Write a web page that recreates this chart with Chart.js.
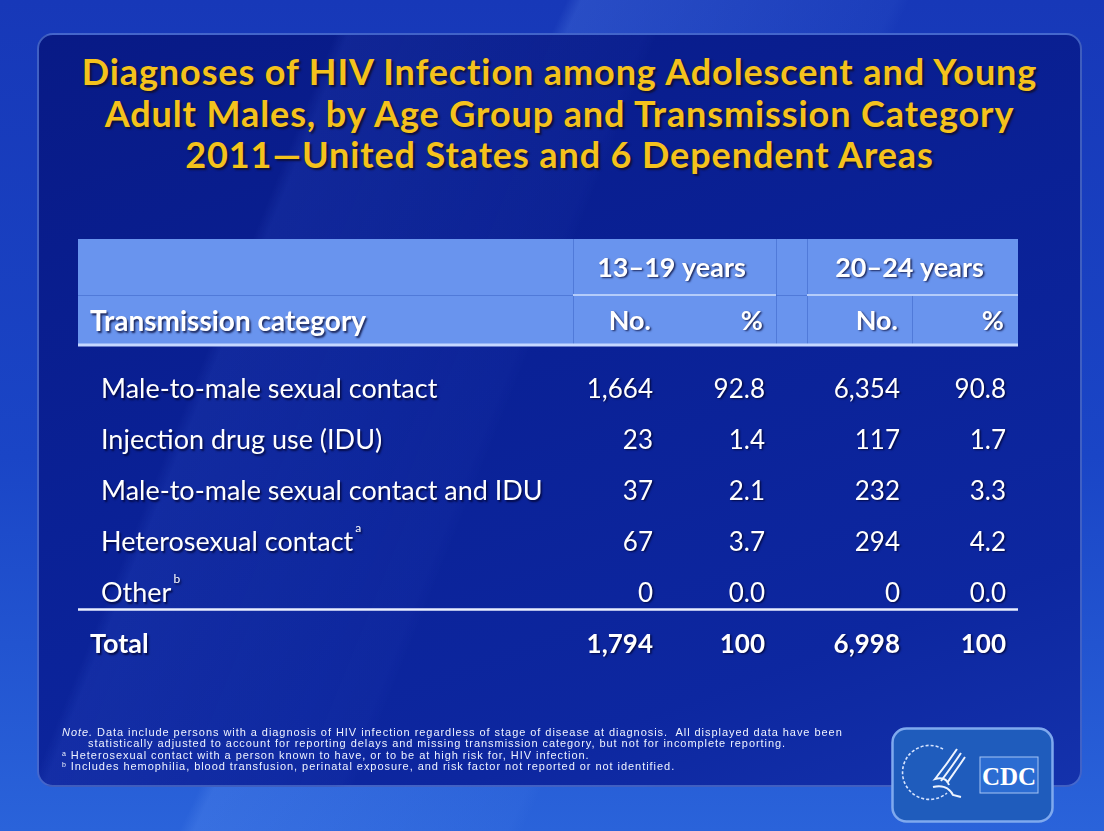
<!DOCTYPE html>
<html>
<head>
<meta charset="utf-8">
<script src="https://cdn.jsdelivr.net/npm/chart.js@4.4.0/dist/chart.umd.min.js"></script>
<style>
  html, body { margin: 0; padding: 0; }
  body {
    width: 1104px; height: 831px; overflow: hidden; position: relative;
    background:
      linear-gradient(115deg, rgba(255,255,255,0) 0%, rgba(255,255,255,0) 38%, rgba(120,170,255,.18) 39%, rgba(120,170,255,.05) 60%, rgba(255,255,255,0) 61%),
      linear-gradient(180deg, #1738b8 0%, #1a45c6 55%, #2a63da 100%);
  }
  #panel {
    position: absolute; left: 37px; top: 33px; width: 1041px; height: 750px;
    border-radius: 16px; border: 2px solid rgba(110,150,235,.55);
    background:
      linear-gradient(112deg, rgba(255,255,255,0) 0%, rgba(255,255,255,0) 22%, rgba(90,130,255,.10) 23%, rgba(90,130,255,.03) 45%, rgba(255,255,255,0) 46%),
      linear-gradient(160deg, #081a86 0%, #0a2196 45%, #0d27a0 80%, #1432ac 100%);
  }
  #title {
    position: absolute; left: 37px; width: 1045px; top: 51px;
    text-align: center; font: bold 36px Lato, sans-serif; line-height: 41.5px;
    letter-spacing: 0.9px;
    color: #f4c21c; text-shadow: 2px 2px 2px #10103a;
  }
  #chart { position: absolute; left: 0; top: 0; }
  #notes {
    position: absolute; left: 62px; top: 727px; width: 840px;
    font: 11px "Liberation Sans", Arial, sans-serif;
    color: #eef2ff; white-space: nowrap; letter-spacing: 0.95px;
  }
  #notes div { height: 11.3px; line-height: 11.3px; }
  #notes .ind { padding-left: 26px; }
  #notes sup { font-size: 7px; vertical-align: baseline; position: relative; top: -3px; }
  #logo { position: absolute; left: 891px; top: 727px; }
</style>
</head>
<body>
<div id="panel"></div>
<div id="title">Diagnoses of HIV Infection among Adolescent and Young<br>Adult Males, by Age Group and Transmission Category<br>2011—United States and 6 Dependent Areas</div>
<canvas id="chart" width="1104" height="831"></canvas>
<div id="notes">
  <div><i>Note.</i> Data include persons with a diagnosis of HIV infection regardless of stage of disease at diagnosis.&nbsp; All displayed data have been</div>
  <div class="ind">statistically adjusted to account for reporting delays and missing transmission category, but not for incomplete reporting.</div>
  <div><sup>a</sup> Heterosexual contact with a person known to have, or to be at high risk for, HIV infection.</div>
  <div><sup>b</sup> Includes hemophilia, blood transfusion, perinatal exposure, and risk factor not reported or not identified.</div>
</div>
<svg id="logo" width="164" height="97" viewBox="0 0 164 97">
  <rect x="1.5" y="1.5" width="160" height="93" rx="14" fill="#1f5cbc" stroke="#7fa9ee" stroke-width="2.5"/>
  <path d="M 52 22 A 27 27 0 1 0 56 66" fill="none" stroke="#d6e4ff" stroke-width="1.6" stroke-dasharray="3 2"/>
  <path d="M 66 22 C 58 34 52 42 44 52 C 52 50 56 52 58 58 M 70 26 C 62 38 56 46 50 54 M 74 30 C 66 42 60 50 56 56 M 42 60 C 50 58 58 60 62 68 L 70 70" fill="none" stroke="#eef4ff" stroke-width="2"/>
  <rect x="89" y="30" width="58" height="36" fill="#2b6cd2" stroke="#a6c4f4" stroke-width="1"/>
  <text x="118" y="58" text-anchor="middle" font-family="Liberation Serif, serif" font-weight="bold" font-size="25" fill="#ffffff">CDC</text>
</svg>
<script>
const rowLabels = ['Male-to-male sexual contact', 'Injection drug use (IDU)', 'Male-to-male sexual contact and IDU', 'Heterosexual contact', 'Other', 'Total'];
const rowNotes = ['', '', '', 'a', 'b', ''];
const ageGroups = ['13–19 years', '20–24 years'];
const colHeads = ['No.', '%', 'No.', '%'];
const no1319 = [1664, 23, 37, 67, 0, 1794];
const pct1319 = [92.8, 1.4, 2.1, 3.7, 0.0, 100];
const no2024 = [6354, 117, 232, 294, 0, 6998];
const pct2024 = [90.8, 1.7, 3.3, 4.2, 0.0, 100];

// layout, in table units (0 = left edge of table)
const colRight = [575, 687, 822, 928];
const groupEdges = [[495, 698], [729, 940]];
const columns = [no1319, pct1319, no2024, pct2024];
const isPct = [false, true, false, true];

function fmt(v, pct) {
  if (pct) return v === 100 ? '100' : v.toFixed(1);
  return v.toLocaleString('en-US');
}

const fontFam = 'Lato, "Open Sans", sans-serif';

function shadowOn(ctx) {
  ctx.shadowColor = 'rgba(0,0,40,0.75)';
  ctx.shadowOffsetX = 1.5;
  ctx.shadowOffsetY = 1.5;
  ctx.shadowBlur = 2;
}
function shadowOff(ctx) {
  ctx.shadowColor = 'transparent';
  ctx.shadowOffsetX = 0; ctx.shadowOffsetY = 0; ctx.shadowBlur = 0;
}

const tablePlugin = {
  id: 'tablePlugin',
  beforeDatasetsDraw(chart) {
    const ctx = chart.ctx;
    const x = chart.scales.x, y = chart.scales.y;
    const L = x.getPixelForValue(0), R = x.getPixelForValue(940);
    const hTop = chart.chartArea.top - 125, hMid = chart.chartArea.top - 69, hBot = chart.chartArea.top - 20;
    ctx.save();
    // header band
    ctx.fillStyle = '#6994ee';
    ctx.fillRect(L, hTop, R - L, hBot - hTop);
    ctx.strokeStyle = 'rgba(60,100,200,0.55)';
    ctx.lineWidth = 1;
    ctx.beginPath();
    ctx.moveTo(L, hMid + 0.5); ctx.lineTo(R, hMid + 0.5);
    [495, 698, 729].forEach(v => {
      const px = Math.round(x.getPixelForValue(v)) + 0.5;
      ctx.moveTo(px, hTop); ctx.lineTo(px, hBot);
    });
    const sp = Math.round(x.getPixelForValue(834)) + 0.5;
    ctx.moveTo(sp, hMid); ctx.lineTo(sp, hBot);
    ctx.stroke();
    // group underlines
    ctx.strokeStyle = '#b4ccfa';
    ctx.lineWidth = 2;
    ctx.beginPath();
    groupEdges.forEach(g => {
      ctx.moveTo(x.getPixelForValue(g[0]), hMid); ctx.lineTo(x.getPixelForValue(g[1]), hMid);
    });
    ctx.stroke();
    // bottom line of header
    ctx.strokeStyle = '#c6d8ff';
    ctx.lineWidth = 3;
    ctx.beginPath();
    ctx.moveTo(L, hBot + 1); ctx.lineTo(R, hBot + 1);
    ctx.stroke();

    // header text
    shadowOn(ctx);
    ctx.fillStyle = '#ffffff';
    ctx.font = 'bold 27px ' + fontFam;
    ctx.textBaseline = 'middle';
    ctx.textAlign = 'center';
    ageGroups.forEach((g, i) => {
      const cx = (x.getPixelForValue(groupEdges[i][0]) + x.getPixelForValue(groupEdges[i][1])) / 2 - 3;
      ctx.fillText(g, cx, hTop + 29);
    });
    ctx.textAlign = 'right';
    colHeads.forEach((h, i) => {
      ctx.fillText(h, x.getPixelForValue(colRight[i]) - 2, hMid + 26);
    });
    ctx.textAlign = 'left';
    ctx.font = 'bold 28px ' + fontFam;
    ctx.fillText('Transmission category', L + 12, hMid + 27);

    // row labels
    rowLabels.forEach((lab, i) => {
      const last = i === rowLabels.length - 1;
      const py = y.getPixelForValue(i);
      ctx.font = (last ? 'bold ' : '') + '27px ' + fontFam;
      ctx.textAlign = 'left';
      const lx = L + (last ? 12 : 23);
      ctx.fillText(lab, lx, py);
      if (rowNotes[i]) {
        const w = ctx.measureText(lab).width;
        ctx.font = '12px ' + fontFam;
        ctx.fillText(rowNotes[i], lx + w + 2, py - 14);
      }
    });
    shadowOff(ctx);
    // rule above total
    const ry = y.getPixelForValue(4) + 16;
    ctx.strokeStyle = '#e8eeff';
    ctx.lineWidth = 2.5;
    ctx.beginPath();
    ctx.moveTo(L, ry); ctx.lineTo(R, ry);
    ctx.stroke();
    ctx.restore();
  },
  afterDatasetsDraw(chart) {
    const ctx = chart.ctx;
    ctx.save();
    shadowOn(ctx);
    ctx.fillStyle = '#ffffff';
    ctx.textAlign = 'right';
    ctx.textBaseline = 'middle';
    chart.data.datasets.forEach((ds, di) => {
      const meta = chart.getDatasetMeta(di);
      meta.data.forEach((el, ri) => {
        const last = ri === rowLabels.length - 1;
        ctx.font = (last ? 'bold ' : '') + '26px ' + fontFam;
        ctx.fillText(fmt(columns[di][ri], isPct[di]), el.x, el.y);
      });
    });
    ctx.restore();
  }
};

new Chart('chart', {
  type: 'scatter',
  data: {
    datasets: columns.map((vals, c) => ({
      label: colHeads[c],
      data: vals.map((v, r) => ({ x: colRight[c], y: rowLabels[r] })),
      pointRadius: 0,
      pointHoverRadius: 0
    }))
  },
  options: {
    responsive: false,
    animation: false,
    events: [],
    layout: { padding: { left: 78, right: 86, top: 364, bottom: 161 } },
    plugins: { legend: { display: false }, tooltip: { enabled: false } },
    scales: {
      x: { type: 'linear', min: 0, max: 940, display: false },
      y: { type: 'category', labels: rowLabels, offset: true, display: false }
    }
  },
  plugins: [tablePlugin]
});
</script>
</body>
</html>
